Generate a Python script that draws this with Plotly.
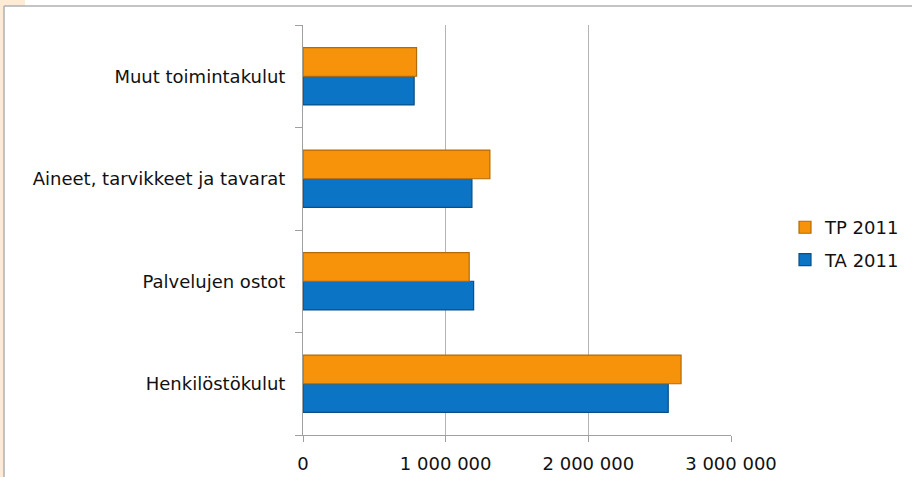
import plotly.graph_objects as go

categories = ["Henkilöstökulut", "Palvelujen ostot",
              "Aineet, tarvikkeet ja tavarat", "Muut toimintakulut"]
ta_2011 = [2560000, 1196000, 1184000, 779000]
tp_2011 = [2650000, 1165000, 1310000, 796000]
x_tick_vals = [0, 1000000, 2000000, 3000000]
x_tick_text = ["0", "1 000 000", "2 000 000", "3 000 000"]

FONT = "DejaVu Sans"

fig = go.Figure()
fig.add_trace(go.Bar(
    y=categories, x=ta_2011, orientation="h", name="TA 2011",
    legendgroup="ta", legendrank=2,
    marker=dict(color="#0B74C4", line=dict(color="#0A4F86", width=1.2)),
))
fig.add_trace(go.Bar(
    y=categories, x=tp_2011, orientation="h", name="TP 2011",
    legendgroup="tp", legendrank=1,
    marker=dict(color="#F7930A", line=dict(color="#B56A08", width=1.2)),
))

fig.update_layout(
    width=912, height=477,
    margin=dict(l=303, r=181, t=25, b=42),
    paper_bgcolor="white", plot_bgcolor="white",
    font=dict(family=FONT, size=18, color="#111111"),
    barmode="group", bargap=0.44, bargroupgap=0,
    showlegend=True,
    legend=dict(x=785/912, xref="container", y=0.467, yref="paper",
                xanchor="left", yanchor="middle",
                traceorder="grouped", tracegroupgap=6,
                font=dict(family=FONT, size=18, color="#111111"),
                itemwidth=30),
    xaxis=dict(range=[0, 3000000], tickvals=x_tick_vals, ticktext=x_tick_text,
               showgrid=True, gridcolor="#B4B4B4", gridwidth=1,
               showline=True, linecolor="#A0A0A0", linewidth=1,
               ticks="outside", ticklen=6, tickcolor="#A0A0A0",
               ticklabelstandoff=6, automargin=False,
               zeroline=False, fixedrange=True),
    yaxis=dict(showline=True, linecolor="#A0A0A0", linewidth=1,
               ticks="outside", ticklen=7, tickcolor="#A0A0A0",
               tickson="boundaries", showgrid=False, zeroline=False,
               ticklabelstandoff=13, automargin=False, fixedrange=True),
)

# outer frame and beige border
fig.add_shape(type="rect", xref="paper", yref="paper",
              x0=-303/428, x1=-299/428, y0=-42/410, y1=(410+25)/410,
              fillcolor="#FDEBD5", line=dict(width=0), layer="below")
fig.add_shape(type="rect", xref="paper", yref="paper",
              x0=-303/428, x1=-278/428, y0=(410+19)/410, y1=(410+25)/410,
              fillcolor="#FDEBD5", line=dict(width=0), layer="below")
fig.add_shape(type="line", xref="paper", yref="paper",
              x0=-299/428, x1=-299/428, y0=-42/410, y1=(410+19)/410,
              line=dict(color="#B0B0B0", width=1.5))
fig.add_shape(type="line", xref="paper", yref="paper",
              x0=-299/428, x1=(428+181)/428, y0=(410+19)/410, y1=(410+19)/410,
              line=dict(color="#B0B0B0", width=1.5))

fig.write_html("out.html", config={"displayModeBar": False},
               post_script="document.body.style.margin='0';document.body.style.overflow='hidden';")
